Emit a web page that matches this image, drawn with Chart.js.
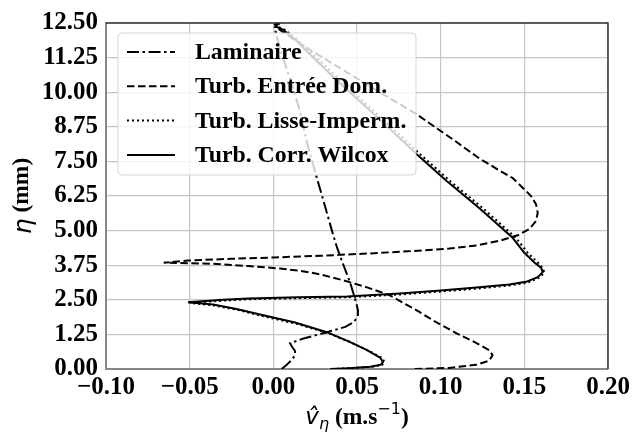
<!DOCTYPE html>
<html>
<head>
<meta charset="utf-8">
<script src="https://cdn.jsdelivr.net/npm/chart.js@4.4.1/dist/chart.umd.min.js"></script>
<style>
  html, body { margin: 0; padding: 0; background: #fff; }
  #wrap { width: 641px; height: 435px; }
</style>
</head>
<body>
<div id="wrap"><canvas id="profileChart"></canvas></div>
<script>
// tick values
var xTickValues = [-0.10, -0.05, 0.00, 0.05, 0.10, 0.15, 0.20];
var yTickValues = [0, 1.25, 2.5, 3.75, 5, 6.25, 7.5, 8.75, 10, 11.25, 12.5];

var seriesNames = ['Laminaire', 'Turb. Entrée Dom.', 'Turb. Lisse-Imperm.', 'Turb. Corr. Wilcox'];

// Laminaire
var lamX = [0.005, 0.008, 0.011, 0.013, 0.013, 0.011, 0.010, 0.018, 0.032, 0.043, 0.048, 0.0505, 0.0506, 0.0495, 0.048, 0.046, 0.0435, 0.041, 0.038, 0.035, 0.030, 0.026, 0.020, 0.016, 0.011, 0.006, 0.002, 0.001, 0.002, 0.004];
var lamY = [0.00, 0.15, 0.32, 0.50, 0.65, 0.82, 0.93, 1.10, 1.33, 1.52, 1.69, 1.90, 2.12, 2.40, 2.70, 3.10, 3.50, 3.90, 4.40, 5.00, 6.07, 6.90, 8.20, 9.30, 10.30, 11.20, 12.00, 12.30, 12.42, 12.50];

// Turb. Entrée Dom.
var entX = [0.0845, 0.105, 0.121, 0.129, 0.131, 0.129, 0.120, 0.1095, 0.097, 0.0857, 0.0696, 0.056, 0.042, 0.028, 0.016, 0.004, -0.015, -0.036, -0.0655, -0.051, -0.025, 0.000, 0.028, 0.056, 0.080, 0.105, 0.122, 0.135, 0.146, 0.153, 0.157, 0.158, 0.157, 0.154, 0.149, 0.143, 0.133, 0.123, 0.1095, 0.0857, 0.060, 0.035, 0.016, 0.004, 0.001, 0.002, 0.004];
var entY = [0.00, 0.04, 0.15, 0.30, 0.50, 0.68, 0.98, 1.29, 1.70, 2.12, 2.66, 2.95, 3.20, 3.42, 3.55, 3.63, 3.72, 3.80, 3.84, 3.92, 3.98, 4.03, 4.09, 4.17, 4.25, 4.35, 4.47, 4.63, 4.83, 5.06, 5.35, 5.64, 5.95, 6.25, 6.55, 6.90, 7.25, 7.61, 8.20, 9.20, 10.13, 11.05, 11.75, 12.25, 12.35, 12.44, 12.50];

// Turb. Lisse-Imperm.
var lisX = [0.035, 0.046, 0.059, 0.065, 0.0665, 0.065, 0.057, 0.046, 0.033, 0.014, -0.005, -0.021, -0.036, -0.050, -0.030, -0.015, 0.015, 0.044, 0.0756, 0.100, 0.123, 0.141, 0.152, 0.159, 0.162, 0.161, 0.158, 0.152, 0.145, 0.125, 0.1056, 0.0877, 0.066, 0.044, 0.025, 0.014, 0.007, 0.003, 0.002, 0.004];
var lisY = [0.00, 0.03, 0.08, 0.15, 0.25, 0.40, 0.66, 0.97, 1.29, 1.63, 1.89, 2.13, 2.30, 2.39, 2.47, 2.52, 2.56, 2.59, 2.69, 2.80, 2.91, 3.02, 3.12, 3.30, 3.48, 3.65, 3.85, 4.20, 4.74, 5.82, 6.79, 7.76, 9.00, 10.20, 11.30, 11.90, 12.25, 12.36, 12.44, 12.50];

// Turb. Corr. Wilcox
var wilX = [0.034, 0.045, 0.058, 0.064, 0.0655, 0.064, 0.056, 0.045, 0.032, 0.013, -0.006, -0.022, -0.036, -0.051, -0.030, -0.015, 0.015, 0.044, 0.0756, 0.100, 0.123, 0.141, 0.151, 0.158, 0.161, 0.160, 0.156, 0.150, 0.143, 0.123, 0.1036, 0.0857, 0.064, 0.042, 0.023, 0.013, 0.006, 0.002, 0.001, 0.003];
var wilY = [0.00, 0.03, 0.08, 0.15, 0.25, 0.40, 0.68, 1.00, 1.33, 1.68, 1.94, 2.17, 2.33, 2.41, 2.50, 2.55, 2.59, 2.62, 2.73, 2.84, 2.95, 3.05, 3.15, 3.32, 3.50, 3.66, 3.85, 4.20, 4.74, 5.82, 6.79, 7.76, 9.00, 10.20, 11.30, 11.90, 12.25, 12.36, 12.44, 12.50];

function toPoints(xs, ys) {
    return xs.map(function (x, i) { return { x: x, y: ys[i] }; });
}

var serif = "'Liberation Serif', 'Times New Roman', serif";
var dashes = [[12, 3.5, 2.5, 3.5], [7.5, 3.5], [2, 3], []];

Chart.defaults.font.family = serif;
Chart.defaults.font.weight = 'bold';
Chart.defaults.color = '#000';

// legend drawn inside the plot, semi-transparent like matplotlib
var innerLegend = {
    id: 'innerLegend',
    afterDatasetsDraw: function (chart) {
        var c = chart.ctx;
        var x0 = 118, y0 = 33, w = 298, h = 142;
        c.save();
        c.beginPath();
        c.roundRect(x0, y0, w, h, 4);
        c.fillStyle = 'rgba(255,255,255,0.8)';
        c.fill();
        c.strokeStyle = 'rgba(210,210,210,0.9)';
        c.lineWidth = 1;
        c.stroke();
        c.font = 'bold 23.8px ' + serif;
        c.textBaseline = 'middle';
        c.fillStyle = '#000';
        for (var i = 0; i < seriesNames.length; i++) {
            var yy = 52 + i * 34.3;
            c.beginPath();
            c.setLineDash(dashes[i]);
            c.lineWidth = 2;
            c.strokeStyle = '#000';
            c.moveTo(127, yy);
            c.lineTo(175, yy);
            c.stroke();
            c.setLineDash([]);
            c.fillText(seriesNames[i], 195, yy + 1);
        }
        c.restore();
    },
    afterDraw: function (chart) {
        var c = chart.ctx, a = chart.chartArea;
        c.save();
        // top and right spines
        c.strokeStyle = '#333';
        c.lineWidth = 1.5;
        c.beginPath();
        c.moveTo(a.left, a.top);
        c.lineTo(a.right, a.top);
        c.lineTo(a.right, a.bottom);
        c.stroke();

        // y axis title: eta (mm)
        c.translate(22, (a.top + a.bottom) / 2);
        c.rotate(-Math.PI / 2);
        c.textBaseline = 'middle';
        c.fillStyle = '#000';
        var f1 = 'italic 25px "DejaVu Sans"', f2 = 'bold 23.5px ' + serif;
        c.font = f1; var w1 = c.measureText('η').width;
        c.font = f2; var w2 = c.measureText(' (mm)').width;
        var sx = -(w1 + w2) / 2;
        c.font = f1; c.fillText('η', sx, 2);
        c.font = f2; c.fillText(' (mm)', sx + w1, 0);
        c.restore();

        // x axis title: v-hat_eta (m.s^-1)
        c.save();
        c.fillStyle = '#000';
        c.textBaseline = 'alphabetic';
        var base = 424;
        var parts = [
            { t: 'v\u0302', f: 'italic 23px "DejaVu Sans"', dy: 0 },
            { t: 'η', f: 'italic 16px "DejaVu Sans"', dy: 5 },
            { t: ' (m.s', f: 'bold 23.5px ' + serif, dy: 0 },
            { t: '\u22121', f: '16px "DejaVu Sans"', dy: -10 },
            { t: ')', f: 'bold 23.5px ' + serif, dy: 0 }
        ];
        var total = 0;
        parts.forEach(function (p) { c.font = p.f; p.w = c.measureText(p.t).width; total += p.w; });
        var px = (a.left + a.right) / 2 - total / 2;
        parts.forEach(function (p) {
            c.font = p.f;
            c.fillText(p.t, px, base + p.dy);
            px += p.w;
        });
        c.restore();
    }
};

var ctx = document.getElementById('profileChart').getContext('2d');
var profileChart = new Chart(ctx, {
    type: 'scatter',
    data: {
        datasets: [
            { label: seriesNames[0], data: toPoints(lamX, lamY), borderDash: dashes[0] },
            { label: seriesNames[1], data: toPoints(entX, entY), borderDash: dashes[1] },
            { label: seriesNames[2], data: toPoints(lisX, lisY), borderDash: dashes[2] },
            { label: seriesNames[3], data: toPoints(wilX, wilY), borderDash: dashes[3] }
        ].map(function (d) {
            d.showLine = true;
            d.borderColor = '#000';
            d.backgroundColor = '#000';
            d.borderWidth = 2;
            d.pointRadius = 0;
            d.tension = 0;
            return d;
        })
    },
    options: {
        responsive: true,
        maintainAspectRatio: false,
        animation: false,
        layout: { padding: { top: 21, right: 33, bottom: 0, left: 0 } },
        plugins: {
            legend: { display: false },
            tooltip: { enabled: false }
        },
        scales: {
            x: {
                type: 'linear',
                min: -0.1,
                max: 0.2,
                afterBuildTicks: function (scale) {
                    scale.ticks = xTickValues.map(function (v) { return { value: v }; });
                },
                afterFit: function (scale) { scale.height = 66; },
                ticks: {
                    font: { size: 25, weight: 'bold' },
                    padding: 4,
                    maxRotation: 0,
                    callback: function (v) { return v.toFixed(2).replace('-', '\u2212'); }
                },
                grid: { color: '#c6c6c6', lineWidth: 1.2, drawTicks: false },
                border: { color: '#888', width: 2 }
            },
            y: {
                type: 'linear',
                min: 0,
                max: 12.5,
                afterBuildTicks: function (scale) {
                    scale.ticks = yTickValues.map(function (v) { return { value: v }; });
                },
                afterFit: function (scale) { scale.width = 106; },
                ticks: {
                    font: { size: 25, weight: 'bold' },
                    padding: 8,
                    callback: function (v) { return v.toFixed(2); }
                },
                grid: { color: '#c6c6c6', lineWidth: 1.2, drawTicks: false },
                border: { color: '#888', width: 2 }
            }
        }
    },
    plugins: [innerLegend]
});
</script>
</body>
</html>
